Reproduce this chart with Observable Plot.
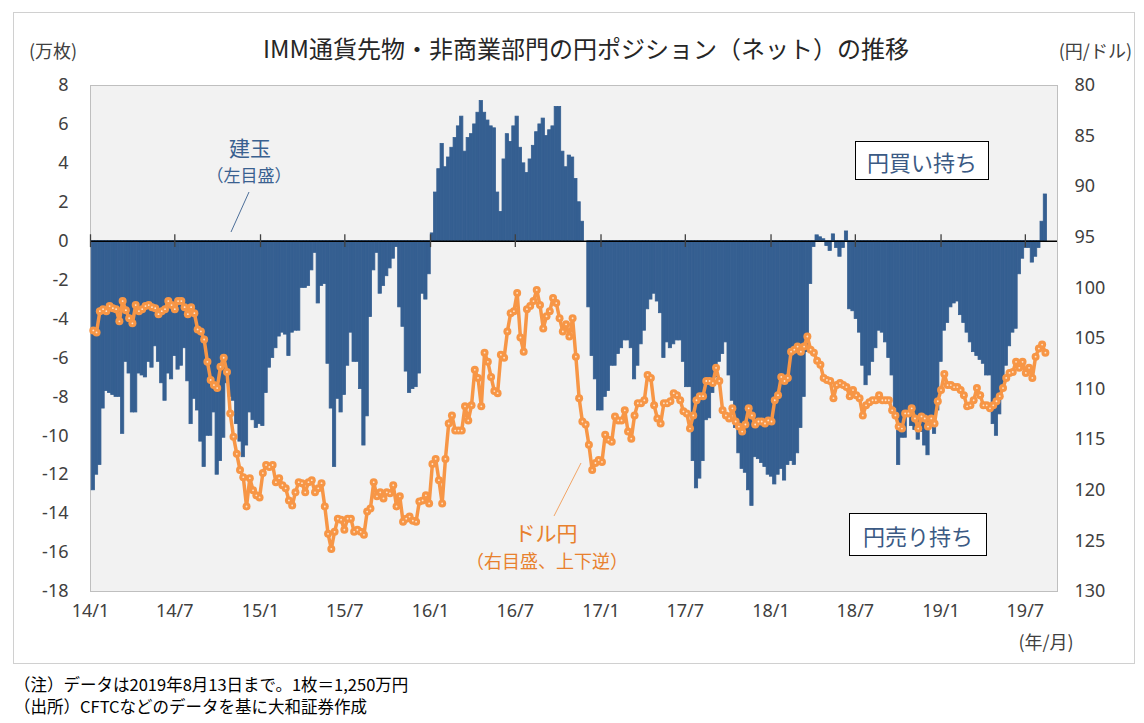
<!DOCTYPE html>
<html><head><meta charset="utf-8">
<script src="https://cdn.jsdelivr.net/npm/d3@7"></script>
<script src="https://cdn.jsdelivr.net/npm/@observablehq/plot@0.6"></script>
<style>
body{margin:0;background:#fff;font-family:"Noto Sans CJK JP","Noto Sans",sans-serif;}
#wrap{position:relative;width:1144px;height:723px;overflow:hidden;}
#frame{position:absolute;left:13px;top:12px;width:1122px;height:652px;border:1px solid #d0d0d0;box-sizing:border-box;}
.layer{position:absolute;left:0;top:0;}
.t{position:absolute;white-space:nowrap;line-height:1;}
.c{transform:translate(-50%,-50%);}
.box{position:absolute;background:#fff;border:1.5px solid #000;box-sizing:border-box;display:flex;align-items:center;justify-content:center;color:#3b5a84;font-size:22px;}
svg.ann{position:absolute;left:0;top:0;pointer-events:none;}
</style>
</head><body>
<div id="wrap">
  <div id="frame"></div>
  <div id="chart1" class="layer"></div>
  <div id="chart2" class="layer"></div>
  <svg class="ann" width="1144" height="723">
    <line x1="249" y1="192" x2="231" y2="232" stroke="#4d6f99" stroke-width="1"/>
    <line x1="581" y1="463" x2="554" y2="516" stroke="#f2a566" stroke-width="1"/>
  </svg>
  <div class="t c" style="left:586px;top:48px;font-size:24px;color:#262626;">IMM通貨先物・非商業部門の円ポジション（ネット）の推移</div>
  <div class="t" style="left:29px;top:41px;font-size:18px;color:#404040;">(万枚)</div>
  <div class="t" style="right:12px;top:41px;font-size:18px;color:#404040;">(円/ドル)</div>
  <div class="t c" style="left:1046px;top:641px;font-size:18px;color:#404040;">(年/月)</div>
  <div class="t c" style="left:250px;top:147px;font-size:21px;color:#3a6190;">建玉</div>
  <div class="t c" style="left:249px;top:174px;font-size:17px;color:#3a6190;">（左目盛）</div>
  <div class="t c" style="left:546px;top:532px;font-size:21px;color:#e8812e;">ドル円</div>
  <div class="t c" style="left:547px;top:560px;font-size:18px;color:#e8812e;">（右目盛、上下逆）</div>
  <div class="box" style="left:855px;top:141px;width:134px;height:39px;">円買い持ち</div>
  <div class="box" style="left:849px;top:513px;width:138px;height:43px;">円売り持ち</div>
  <div class="t" style="left:14px;top:676px;font-size:16.5px;color:#000;">（注）データは2019年8月13日まで。1枚＝1,250万円</div>
  <div class="t" style="left:14px;top:698px;font-size:16.5px;color:#000;">（出所）CFTCなどのデータを基に大和証券作成</div>
</div>
<script>
// Weekly data (CFTC reporting Tuesdays), 2014-01-07 .. 2019-08-13
const startDate = "2014-01-07";
const netYenPosition = [ // 万枚
  -12.8,-12.0,-11.5,-8.6,-7.7,-7.8,-7.9,-8.0,-8.0,-9.9,-6.2,-6.8,-8.8,-8.8,-6.8,-6.9,-7.0,-6.2,-6.5,-5.4,-6.2,-7.3,-8.2,-6.8,-7.1,-5.9,
  -6.6,-6.4,-5.5,-7.2,-9.4,-8.1,-8.7,-10.3,-11.6,-10.0,-10.0,-8.8,-12.0,-11.3,-10.1,-7.3,-8.0,-8.2,-9.4,-10.3,-11.1,-10.5,-8.8,-9.2,-9.6,-9.4,
  -9.5,-7.8,-6.5,-6.0,-5.5,-4.9,-4.7,-4.8,-5.9,-4.7,-4.6,-4.6,-2.4,-2.4,-2.3,-1.5,-0.6,-3.2,-2.3,-2.2,-6.3,-8.6,-11.6,-8.1,-8.8,-7.9,
  -6.4,-4.7,-6.2,-6.2,-7.6,-10.5,-9.0,-3.9,-1.5,-0.6,-2.7,-2.3,-1.8,-1.4,-0.9,-0.3,-3.4,-4.4,-6.7,-7.8,-7.6,-7.5,-6.8,-2.7,-3.0,-1.7,
  0.4,2.5,3.7,5.0,3.8,4.3,4.8,5.3,5.9,6.4,4.6,5.3,5.5,6.0,6.6,7.2,6.6,6.2,5.9,5.8,2.5,1.5,4.2,5.5,5.1,5.9,
  6.4,4.8,4.0,3.5,4.2,4.9,5.6,6.0,6.3,5.4,5.7,5.9,6.9,6.9,4.6,3.8,4.4,4.3,3.2,2.0,1.0,0,-3.4,-5.9,-7.1,-8.7,
  -8.7,-8.0,-7.7,-6.4,-6.4,-5.8,-5.5,-5.1,-5.1,-5.5,-7.1,-6.4,-5.3,-4.6,-3.5,-3.0,-2.7,-3.1,-3.7,-6.0,-5.2,-5.5,-5.3,-5.1,-5.1,-6.2,
  -7.5,-7.5,-11.3,-12.7,-12.2,-11.3,-9.2,-9.1,-7.8,-7.0,-6.2,-5.8,-5.2,-6.9,-8.2,-9.6,-10.9,-11.7,-11.9,-12.8,-13.6,-11.1,-11.2,-11.4,-11.6,-12.0,
  -12.1,-12.5,-12.0,-11.7,-12.3,-11.5,-11.3,-11.5,-10.9,-9.6,-8.0,-5.7,-2.2,-0.3,0.3,0.2,0.1,-0.25,-0.5,0.35,-0.35,-0.8,-0.35,0.5,-3.5,-3.6,
  -4.0,-4.7,-6.4,-7.4,-6.9,-6.2,-5.5,-4.6,-4.7,-5.2,-6.0,-6.9,-8.6,-11.5,-10.1,-10.1,-8.8,-9.5,-9.7,-10.2,-9.8,-10.5,-11.0,-9.4,-9.9,-8.7,
  -6.2,-4.6,-4.2,-3.4,-3.2,-3.1,-3.8,-4.2,-4.7,-5.2,-5.7,-5.9,-6.1,-6.3,-6.9,-6.9,-9.4,-10.0,-8.9,-7.6,-6.4,-5.4,-4.7,-4.5,-1.7,-0.9,
  -0.35,-0.35,-1.1,-0.8,-0.35,1.0,2.4
];
const usdJpy = [ // 円/ドル
  104.2,104.4,102.3,102.1,102.3,101.8,102.0,102.1,103.3,101.3,102.2,103.0,103.5,101.7,102.3,102.1,101.8,101.7,101.9,102.0,102.6,102.3,102.1,101.3,101.7,102.1,
  101.3,101.3,101.9,102.6,101.9,102.5,104.1,104.3,105.1,107.3,109.1,109.6,109.9,107.8,106.9,108.3,112.4,114.7,116.4,118.0,118.7,121.6,118.8,120.0,120.5,120.7,
  118.3,117.5,117.7,117.5,119.2,118.8,119.5,119.8,121.0,121.5,120.2,119.2,119.3,120.2,119.2,119.0,120.2,119.8,119.3,121.6,124.3,125.8,124.1,122.8,122.9,123.9,
  122.8,122.8,124.1,123.9,124.1,124.4,122.1,121.8,119.2,120.6,120.2,120.8,120.2,120.3,119.5,121.6,120.6,123.1,122.8,122.6,123.0,123.1,121.1,121.0,120.5,121.3,
  117.4,116.9,119.0,121.3,116.9,113.4,112.6,114.1,114.1,114.1,111.7,113.1,111.6,108.1,108.9,111.7,106.4,107.3,108.8,110.2,110.4,106.6,106.9,104.3,102.5,102.3,
  100.5,104.9,106.3,102.1,101.8,101.3,100.2,101.7,104.0,102.8,102.3,101.0,101.5,103.0,104.3,103.6,104.8,103.0,106.8,110.9,113.2,113.5,115.5,118.0,117.3,117.0,
  117.2,114.5,115.0,115.2,112.7,113.1,113.1,112.1,114.2,114.9,112.6,111.4,111.4,111.1,108.6,108.9,111.6,112.9,113.4,111.4,111.4,111.2,110.4,110.6,111.1,112.2,
  112.4,113.9,112.6,111.1,110.7,110.7,109.2,109.2,109.4,107.9,109.2,112.1,112.6,112.9,111.9,113.2,113.7,114.2,113.5,111.9,112.6,113.5,113.2,113.2,113.4,113.1,
  113.2,111.1,110.6,108.8,109.2,108.9,106.3,106.1,105.8,106.3,105.8,104.8,106.1,106.4,107.2,107.6,108.9,109.1,109.2,110.9,109.6,109.4,109.6,109.8,110.7,110.1,
  110.6,110.9,112.6,111.6,111.3,111.1,111.1,110.6,111.1,111.1,111.1,112.1,112.6,113.7,113.9,112.4,112.4,111.9,112.9,113.9,112.7,112.9,113.7,112.9,113.4,111.2,
  110.1,108.5,109.6,109.6,109.8,109.8,110.1,110.6,111.7,111.6,111.1,109.9,110.6,111.6,111.6,111.9,111.6,111.2,110.7,109.9,108.9,108.4,108.3,107.3,107.9,107.3,
  108.4,107.9,108.9,106.8,106.0,105.6,106.4
];
const tickDateStrings = ["2014-01-01","2014-07-01","2015-01-01","2015-07-01","2016-01-01","2016-07-01","2017-01-01","2017-07-01","2018-01-01","2018-07-01","2019-01-01","2019-07-01"];
const tickLabels = ["14/1","14/7","15/1","15/7","16/1","16/7","17/1","17/7","18/1","18/7","19/1","19/7"];
const leftTicks = [8,6,4,2,0,-2,-4,-6,-8,-10,-12,-14,-16,-18];
const rightTicks = [80,85,90,95,100,105,110,115,120,125,130];

const DAY = 864e5;
const t0 = new Date(startDate + "T00:00:00Z");
const rows = netYenPosition.map((v, i) => ({
  date: new Date(+t0 + i * 7 * DAY),
  pos: v,
  fx: usdJpy[i]
}));
const tickDates = tickDateStrings.map(s => new Date(s + "T00:00:00Z"));
const xDomain = [new Date("2014-01-01T00:00:00Z"), new Date("2019-09-08T00:00:00Z")];

const common = {
  width: 1144, height: 660,
  marginTop: 85, marginBottom: 69, marginLeft: 90, marginRight: 87,
  style: {background: "transparent", fontFamily: "'Noto Sans', sans-serif", fontSize: "18px", color: "#404040", overflow: "visible"}
};

const chart1 = Plot.plot({
  ...common,
  x: {type: "utc", domain: xDomain, label: null},
  y: {domain: [-18, 8], label: null},
  marks: [
    Plot.frame({fill: "#f2f2f2", stroke: "#bfbfbf"}),
    Plot.rectY(rows, {
      x1: d => new Date(+d.date - 3.5 * DAY),
      x2: d => new Date(+d.date + 3.5 * DAY),
      y: "pos", fill: "#355f91", stroke: "#355f91", strokeWidth: 0.8
    }),
    Plot.ruleY([0], {stroke: "#000", strokeWidth: 1.5}),
    Plot.ruleX(tickDates, {y1: -0.33, y2: 0.33, stroke: "#404040", strokeWidth: 1.3}),
    Plot.axisY({ticks: leftTicks, tickSize: 0, tickPadding: 22, tickFormat: d => String(d), label: null}),
    Plot.axisX({ticks: tickDates, tickSize: 0, tickPadding: 13, tickFormat: (d, i) => tickLabels[i], label: null})
  ]
});
document.getElementById("chart1").appendChild(chart1);

const chart2 = Plot.plot({
  ...common,
  x: {type: "utc", domain: xDomain, axis: null},
  y: {domain: [80, 130], reverse: true, label: null},
  marks: [
    Plot.line(rows, {x: "date", y: "fx", stroke: "#f79646", strokeWidth: 3.5}),
    Plot.dot(rows, {x: "date", y: "fx", r: 4, fill: "#f79646"}),
    Plot.dot(rows, {x: "date", y: "fx", r: 0.9, fill: "#fde3cc"}),
    Plot.axisY({anchor: "right", ticks: rightTicks, tickSize: 0, tickPadding: 17, tickFormat: d => String(d), label: null})
  ]
});
document.getElementById("chart2").appendChild(chart2);
</script>
</body></html>
